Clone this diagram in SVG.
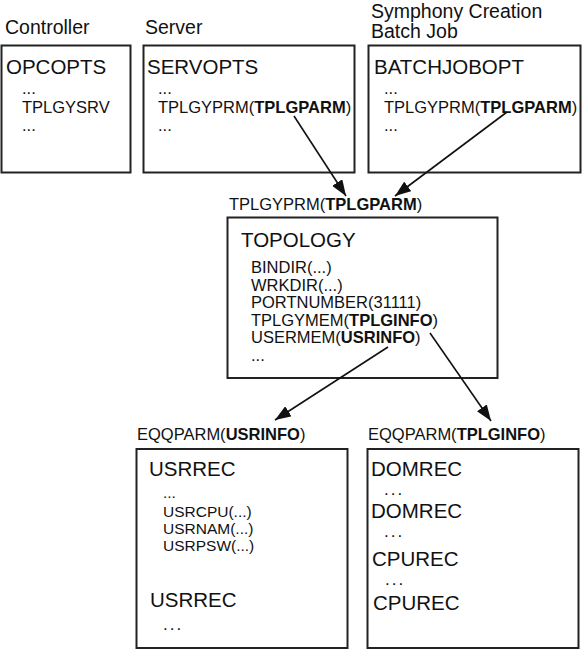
<svg xmlns="http://www.w3.org/2000/svg" width="582" height="650" viewBox="0 0 582 650">
<defs>
<style>
text{font-family:"Liberation Sans",Arial,Helvetica,sans-serif;fill:#111}
.cat{font-size:19.5px}
.hd{font-size:20.5px}
.sm{font-size:16.5px}
.xs{font-size:15.5px}
.dots{font-size:17px;letter-spacing:2px}
.b{font-weight:bold}
.box{fill:#fff;stroke:#222;stroke-width:2}
.conn{stroke:#111;stroke-width:1.6;fill:none;marker-end:url(#ah)}
</style>
<marker id="ah" viewBox="0 0 16 12" refX="16" refY="6" markerWidth="16" markerHeight="12" markerUnits="userSpaceOnUse" orient="auto">
<path d="M0,0 L16,6 L0,12 z" fill="#111"/>
</marker>
</defs>
<rect width="582" height="650" fill="#fff"/>

<g id="controller">
<text class="cat" x="5" y="34">Controller</text>
<rect class="box" x="1.5" y="45.5" width="129" height="127"/>
<text class="hd" x="6" y="74">OPCOPTS</text>
<text class="sm" x="22" y="94">...</text>
<text class="sm" x="22" y="112.5">TPLGYSRV</text>
<text class="sm" x="22" y="131">...</text>
</g>

<g id="server">
<text class="cat" x="145" y="34">Server</text>
<rect class="box" x="143.5" y="45.5" width="211" height="127"/>
<text class="hd" x="147" y="74">SERVOPTS</text>
<text class="sm" x="158" y="94">...</text>
<text class="sm" x="158" y="112.5">TPLGYPRM(<tspan class="b">TPLGPARM</tspan>)</text>
<text class="sm" x="158" y="131">...</text>
</g>

<g id="batchjob">
<text class="cat" x="371" y="18">Symphony Creation</text>
<text class="cat" x="371" y="38">Batch Job</text>
<rect class="box" x="368.5" y="45.5" width="212" height="127"/>
<text class="hd" x="374" y="74">BATCHJOBOPT</text>
<text class="sm" x="384" y="94">...</text>
<text class="sm" x="384" y="112.5">TPLGYPRM(<tspan class="b">TPLGPARM</tspan>)</text>
<text class="sm" x="384" y="131">...</text>
</g>

<g id="topology">
<text class="sm" x="229" y="210">TPLGYPRM(<tspan class="b">TPLGPARM</tspan>)</text>
<rect class="box" x="227.5" y="217.5" width="270" height="160.5"/>
<text class="hd" x="241" y="247">TOPOLOGY</text>
<text class="sm" x="251" y="273">BINDIR(...)</text>
<text class="sm" x="251" y="290.5">WRKDIR(...)</text>
<text class="sm" x="251" y="308">PORTNUMBER(31111)</text>
<text class="sm" x="251" y="325.5">TPLGYMEM(<tspan class="b">TPLGINFO</tspan>)</text>
<text class="sm" x="251" y="343">USERMEM(<tspan class="b">USRINFO</tspan>)</text>
<text class="sm" x="251" y="361">...</text>
</g>

<g id="usrinfo">
<text class="sm" x="137" y="440">EQQPARM(<tspan class="b">USRINFO</tspan>)</text>
<rect class="box" x="136.5" y="449" width="211" height="199"/>
<text class="hd" x="149" y="476">USRREC</text>
<text class="xs" x="163" y="498">...</text>
<text class="xs" x="163" y="517">USRCPU(...)</text>
<text class="xs" x="163" y="534">USRNAM(...)</text>
<text class="xs" x="163" y="551">USRPSW(...)</text>
<text class="hd" x="150" y="607">USRREC</text>
<text class="dots" x="163" y="630">...</text>
</g>

<g id="tplginfo">
<text class="sm" x="368" y="440">EQQPARM(<tspan class="b">TPLGINFO</tspan>)</text>
<rect class="box" x="367.5" y="449" width="211" height="199"/>
<text class="hd" x="371" y="476">DOMREC</text>
<text class="dots" x="384" y="495">...</text>
<text class="hd" x="371" y="518">DOMREC</text>
<text class="dots" x="384" y="537">...</text>
<text class="hd" x="372" y="566">CPUREC</text>
<text class="dots" x="385" y="585">...</text>
<text class="hd" x="373" y="610">CPUREC</text>
</g>

<g id="connectors">
<line class="conn" x1="294" y1="116" x2="346" y2="196"/>
<line class="conn" x1="507" y1="112" x2="395" y2="196"/>
<line class="conn" x1="388" y1="347" x2="275" y2="420"/>
<line class="conn" x1="430" y1="333" x2="491" y2="421"/>
</g>
</svg>
